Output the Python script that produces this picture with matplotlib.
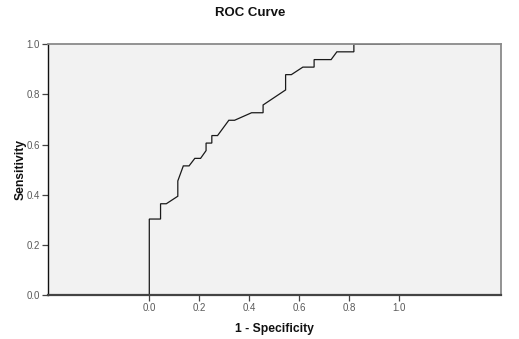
import matplotlib
matplotlib.use("Agg")
import matplotlib.pyplot as plt

# ROC curve vertices (1 - specificity, sensitivity)
fpr = [0.000, 0.000, 0.045, 0.045, 0.068, 0.114, 0.114, 0.136, 0.159, 0.182,
       0.205, 0.227, 0.227, 0.250, 0.250, 0.273, 0.318, 0.341, 0.409, 0.455,
       0.455, 0.545, 0.545, 0.568, 0.614, 0.659, 0.659, 0.727, 0.750, 0.818,
       0.818, 1.000]
tpr = [0.000, 0.303, 0.303, 0.364, 0.364, 0.394, 0.455, 0.515, 0.515, 0.545,
       0.545, 0.576, 0.606, 0.606, 0.636, 0.636, 0.697, 0.697, 0.727, 0.727,
       0.758, 0.818, 0.879, 0.879, 0.909, 0.909, 0.939, 0.939, 0.970, 0.970,
       1.000, 1.000]

x_ticks = [0.0, 0.2, 0.4, 0.6, 0.8, 1.0]
y_ticks = [0.0, 0.2, 0.4, 0.6, 0.8, 1.0]

plt.rcParams['font.family'] = ['Liberation Sans', 'DejaVu Sans']

fig = plt.figure(figsize=(5.19, 3.39), dpi=100)
ax = fig.add_axes([0.0925, 0.1298, 0.8722, 0.7395])
ax.set_facecolor('#f2f2f2')

ax.plot(fpr, tpr, color='#1a1a1a', linewidth=0.9, solid_joinstyle='miter')

ax.set_xlim(-0.405, 1.405)
ax.set_ylim(0.0, 1.0)
ax.set_xticks(x_ticks)
ax.set_yticks(y_ticks)
ax.set_xticklabels([f"{v:.1f}" for v in x_ticks])
ax.set_yticklabels([f"{v:.1f}" for v in y_ticks])
ax.tick_params(axis='both', direction='out', length=4, width=0.9,
               color='#444444', labelsize=7, labelcolor='#5a5a5a', pad=2)

ax.spines['left'].set_color('#111111')
ax.spines['left'].set_linewidth(1.0)
ax.spines['bottom'].set_color('#444444')
ax.spines['bottom'].set_linewidth(1.6)
ax.spines['top'].set_color('#8a8a8a')
ax.spines['top'].set_linewidth(1.3)
ax.spines['right'].set_color('#8a8a8a')
ax.spines['right'].set_linewidth(1.3)

fig.text(0.482, 1 - 12.5 / 339, 'ROC Curve', ha='center', va='center',
         fontsize=9.5, fontweight='bold', color='#111111')
ax.set_xlabel('1 - Specificity', fontsize=8.7, fontweight='bold',
              color='#111111', labelpad=7)
ax.set_ylabel('Sensitivity', fontsize=8.7, fontweight='bold',
              color='#111111', labelpad=0)

fig.savefig('out.png', dpi=100, facecolor='white')
